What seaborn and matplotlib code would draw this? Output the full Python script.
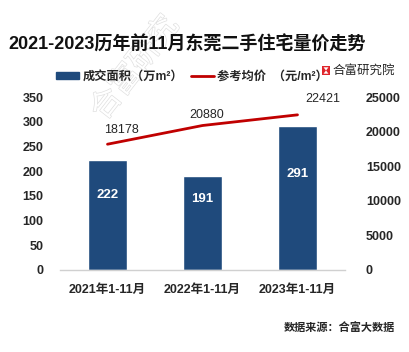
import numpy as np
import pandas as pd
import matplotlib
matplotlib.use("Agg")
import matplotlib.pyplot as plt
import matplotlib.patheffects as pe
from matplotlib.patches import Patch, Rectangle, Polygon
from matplotlib.lines import Line2D
import seaborn as sns

categories = ["2021年1-11月", "2022年1-11月", "2023年1-11月"]
area = [222, 191, 291]
price = [18178, 20880, 22421]
left_ticks = [0, 50, 100, 150, 200, 250, 300, 350]
right_ticks = [0, 5000, 10000, 15000, 20000, 25000]

title = "2021-2023历年前11月东莞二手住宅量价走势"
legend_area = "成交面积（万m²）"
legend_price = "参考均价  （元/m²）"
brand = "合富研究院"
source = "数据来源：合富大数据"
watermark = "合富研究"

sns.set_theme(style="white")
FONT = ["Liberation Sans", "Noto Sans CJK SC", "DejaVu Sans"]
plt.rcParams["font.family"] = FONT

BLUE = "#1F4A7C"
RED = "#C00000"
TXT = "#262626"

W, H = 410, 352
fig = plt.figure(figsize=(W/100, H/100), dpi=100)
fig.patch.set_facecolor("white")

def fx(px):
    return px / W

def fy(py):
    return 1 - py / H

# watermark
fig.text(fx(135), fy(68), watermark, fontsize=22, rotation=52, color="white",
         ha="center", va="center", family=["Noto Sans CJK SC"], zorder=0,
         path_effects=[pe.Stroke(linewidth=1.0, foreground="#e0e0e0"), pe.Normal()])

ax = fig.add_axes([fx(60), fy(270), 285/W, 173/H])
df = pd.DataFrame({"cat": categories, "area": area})
sns.barplot(data=df, x="cat", y="area", color=BLUE, width=0.41, saturation=1, ax=ax)
ax.set_xlim(-0.5, 2.5)
ax.set_ylim(0, 350)
ax.set_yticks(left_ticks)
ax.set_xlabel("")
ax.set_ylabel("")
for s in ["top", "left", "right"]:
    ax.spines[s].set_visible(False)
ax.spines["bottom"].set_color("#d0d0d0")
ax.spines["bottom"].set_linewidth(1.0)
ax.tick_params(axis="both", length=0, labelsize=9, labelcolor=TXT)
ax.tick_params(axis="y", pad=12)
ax.tick_params(axis="x", pad=10)
for lbl in ax.get_xticklabels() + ax.get_yticklabels():
    lbl.set_fontweight("bold")
ax.patch.set_alpha(0)

label_y = [151, 144, 194]
for i, v in enumerate(area):
    ax.text(i, label_y[i], str(v), color="white", fontsize=9.5, fontweight="bold",
            ha="center", va="center")

ax2 = ax.twinx()
sns.lineplot(x=np.arange(len(price)), y=price, color=RED, linewidth=2.0, ax=ax2)
ax2.set_ylim(0, 25000)
ax2.set_yticks(right_ticks)
ax2.set_ylabel("")
for s in ["top", "left", "right", "bottom"]:
    ax2.spines[s].set_visible(False)
ax2.tick_params(axis="y", length=0, labelsize=9, labelcolor=TXT, pad=15)
for lbl in ax2.get_yticklabels():
    lbl.set_fontweight("bold")
offsets = [(10, 6), (3, 3), (18, 7)]
for i, v in enumerate(price):
    ax2.annotate(str(v), (i, v), xytext=offsets[i], textcoords="offset points",
                 ha="center", va="bottom", fontsize=9, color=TXT)

# title
fig.text(fx(8), fy(45), title, fontsize=13, fontweight="bold", color="#111111",
         ha="left", va="center")

# legend
handles = [Patch(facecolor=BLUE, edgecolor=BLUE),
           Line2D([0], [0], color=RED, linewidth=2)]
leg = fig.legend(handles, [legend_area, legend_price], loc="center left",
                 bbox_to_anchor=(fx(56), fy(77)), ncol=2, frameon=False,
                 prop={"size": 8.8, "weight": "bold"}, handlelength=1.9,
                 handleheight=0.42, handletextpad=0.25, columnspacing=0.65,
                 borderpad=0, borderaxespad=0)
for t in leg.get_texts():
    t.set_color(TXT)

# brand logo (hourglass mark drawn as shapes)
fig.patches.append(Rectangle((fx(322), fy(75)), 8/W, 9/H, transform=fig.transFigure,
                             facecolor="#E0252B", edgecolor="none"))
fig.patches.append(Polygon([(fx(323.5), fy(67.3)), (fx(328.5), fy(67.3)), (fx(326), fy(70.5))],
                           closed=True, transform=fig.transFigure, facecolor="white",
                           edgecolor="none"))
fig.patches.append(Polygon([(fx(323.5), fy(73.7)), (fx(328.5), fy(73.7)), (fx(326), fy(70.5))],
                           closed=True, transform=fig.transFigure, facecolor="white",
                           edgecolor="none"))
fig.text(fx(333), fy(70), brand, fontsize=9, color=TXT, ha="left", va="center",
         family=["Noto Sans CJK SC"])

fig.text(fx(395), fy(327), source, fontsize=8, fontweight="bold", color=TXT,
         ha="right", va="center")

fig.savefig("out.png", dpi=100, facecolor="white")
